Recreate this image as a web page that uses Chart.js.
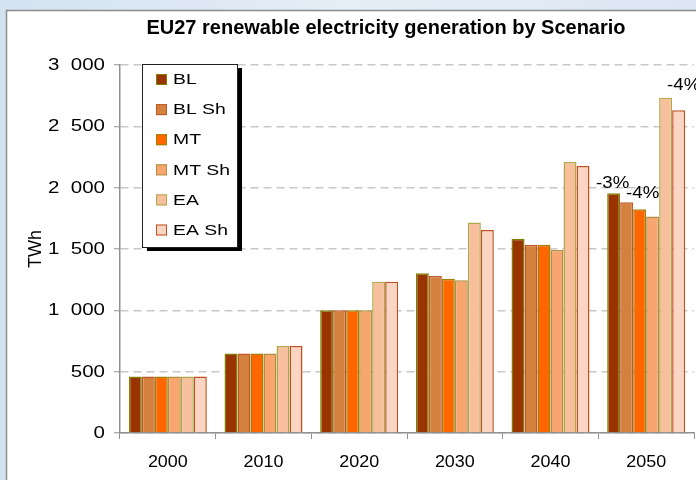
<!DOCTYPE html>
<html>
<head>
<meta charset="utf-8">
<script src="https://cdn.jsdelivr.net/npm/chart.js@4/dist/chart.umd.min.js"></script>
<style>
  html, body { margin: 0; padding: 0; background: #dfe9f4; }
  #wrap { width: 696px; height: 480px; position: relative; }
</style>
</head>
<body>
<div id="wrap"><canvas id="c" width="696" height="480"></canvas></div>
<script>
// Renewable electricity generation (TWh), EU27, by scenario
const years = ['2000', '2010', '2020', '2030', '2040', '2050'];
const seriesNames = ['BL', 'BL Sh', 'MT', 'MT Sh', 'EA', 'EA Sh'];
const blValues   = [460, 649, 1000, 1302, 1584, 1954];
const blShValues = [460, 648, 1000, 1280, 1535, 1881];
const mtValues   = [460, 649, 1000, 1258, 1535, 1824];
const mtShValues = [460, 649, 1000, 1245, 1492, 1764];
const eaValues   = [460, 709, 1233, 1717, 2209, 2733];
const eaShValues = [460, 709, 1233, 1655, 2177, 2631];
const yTicks = [0, 500, 1000, 1500, 2000, 2500, 3000];

// change labels written next to the 2050 bars: [text, series index, year index]
const changeLabels = [['-3%', 0, 5], ['-4%', 2, 5], ['-4%', 4, 5]];

const fills   = ['#993300', '#d5813e', '#ff6600', '#f8a56f', '#f8bf9d', '#fad5c3'];
const borders = ['#808000', '#c0572a', '#a08000', '#b09040', '#b0a848', '#c05020'];
const valueSets = [blValues, blShValues, mtValues, mtShValues, eaValues, eaShValues];

const FONT = '"Liberation Sans", Arial, sans-serif';

const datasets = seriesNames.map((name, i) => ({
  label: name,
  data: valueSets[i],
  backgroundColor: fills[i],
  borderColor: borders[i],
  borderWidth: 1.5,
  borderSkipped: 'bottom',
  categoryPercentage: 0.815,
  barPercentage: 1.0
}));

// thousands grouped with a wide gap: "3  000"
const fmt = v => String(v).replace(/\B(?=(\d{3})+(?!\d))/g, '  ');

// text drawn with a horizontal widening factor
function wideText(ctx, text, x, y, align, sx, font, baseline) {
  ctx.save();
  ctx.translate(x, y);
  ctx.scale(sx, 1);
  ctx.font = font;
  ctx.fillStyle = '#000';
  ctx.textAlign = align;
  ctx.textBaseline = baseline || 'middle';
  ctx.fillText(text, 0, 0);
  ctx.restore();
}

// backdrop: pale blue surround with white framed panel
const backdrop = {
  id: 'backdrop',
  beforeDraw(chart) {
    const ctx = chart.ctx;
    ctx.save();
    const g = ctx.createLinearGradient(0, 0, 696, 0);
    g.addColorStop(0, '#d3e2f1');
    g.addColorStop(0.5, '#e6eef7');
    g.addColorStop(1, '#dce7f3');
    ctx.fillStyle = g;
    ctx.fillRect(0, 0, chart.width, chart.height);
    ctx.fillStyle = '#ffffff';
    ctx.fillRect(7, 11, chart.width, chart.height);
    ctx.strokeStyle = '#8c8c8c';
    ctx.lineWidth = 1.5;
    ctx.beginPath();
    ctx.moveTo(6.5, chart.height);
    ctx.lineTo(6.5, 10.5);
    ctx.lineTo(chart.width, 10.5);
    ctx.stroke();
    ctx.restore();
  }
};

// heading and axis tick labels
const texts = {
  id: 'texts',
  afterDraw(chart) {
    const ctx = chart.ctx;
    ctx.save();
    ctx.font = 'bold 20px ' + FONT;
    ctx.fillStyle = '#000';
    ctx.textAlign = 'center';
    ctx.textBaseline = 'middle';
    ctx.fillText('EU27 renewable electricity generation by Scenario', 386, 28);
    ctx.restore();

    const ys = chart.scales.y, xs = chart.scales.x;
    yTicks.forEach(v => {
      wideText(ctx, fmt(v), 105, ys.getPixelForValue(v) + 0.5, 'right', 1.28, '16px ' + FONT);
    });
    years.forEach((lab, i) => {
      wideText(ctx, lab, xs.getPixelForValue(i), 463, 'center', 1.12, '16px ' + FONT);
    });
  }
};

// boxed legend with drop shadow inside the plot
const boxLegend = {
  id: 'boxLegend',
  afterDatasetsDraw(chart) {
    const ctx = chart.ctx;
    const x = 142, y = 64, w = 95, h = 183;
    ctx.save();
    ctx.fillStyle = '#000';
    ctx.fillRect(x + 5, y + 4, w, h);
    ctx.fillStyle = '#fff';
    ctx.fillRect(x, y, w, h);
    ctx.strokeStyle = '#222';
    ctx.lineWidth = 1;
    ctx.strokeRect(x + 0.5, y + 0.5, w, h);
    chart.data.datasets.forEach((ds, i) => {
      const cy = 79 + i * 30.1;
      ctx.fillStyle = ds.backgroundColor;
      ctx.fillRect(156, cy - 5, 11, 11);
      ctx.strokeStyle = ds.borderColor;
      ctx.lineWidth = 1;
      ctx.strokeRect(156.5, cy - 4.5, 10, 10);
      wideText(ctx, ds.label, 173, cy + 1, 'left', 1.25, '15.5px ' + FONT);
    });
    ctx.restore();
  }
};

// percentage change labels above the 2050 bars
const changeText = {
  id: 'changeText',
  afterDatasetsDraw(chart) {
    const ctx = chart.ctx;
    const shifts = [-1, 3, 18];
    const gaps = [5, 11, 8];
    changeLabels.forEach(([txt, si, yi], k) => {
      const bar = chart.getDatasetMeta(si).data[yi];
      wideText(ctx, txt, bar.x + shifts[k], bar.y - gaps[k], 'center', 1.1, '17px ' + FONT, 'alphabetic');
    });
  }
};

new Chart(document.getElementById('c'), {
  type: 'bar',
  data: { labels: years, datasets },
  plugins: [backdrop, texts, boxLegend, changeText],
  options: {
    responsive: false,
    animation: false,
    devicePixelRatio: 1,
    layout: { padding: { top: 65, right: 2, left: 0, bottom: 0 } },
    plugins: {
      legend: { display: false },
      title: { display: false },
      tooltip: { enabled: false }
    },
    scales: {
      x: {
        afterFit(s) { s.height = 47; },
        grid: {
          offset: true,
          drawOnChartArea: false,
          tickLength: 6,
          tickColor: '#909090'
        },
        border: { color: '#909090', width: 1.5 },
        ticks: { display: false }
      },
      y: {
        min: 0,
        max: 3000,
        afterFit(s) { s.width = 120; },
        afterBuildTicks(s) { s.ticks = yTicks.map(v => ({ value: v })); },
        grid: {
          color: '#c8c8c8',
          lineWidth: 1.5,
          tickLength: 6,
          tickColor: '#909090',
          tickBorderDash: [],
          tickWidth: 1
        },
        border: { color: '#909090', width: 1.5, dash: [8, 5] },
        ticks: { display: false },
        title: {
          display: true,
          text: 'TWh',
          color: '#000',
          padding: { top: 25, bottom: 0 },
          font: { size: 18, family: FONT }
        }
      }
    }
  }
});
</script>
</body>
</html>
